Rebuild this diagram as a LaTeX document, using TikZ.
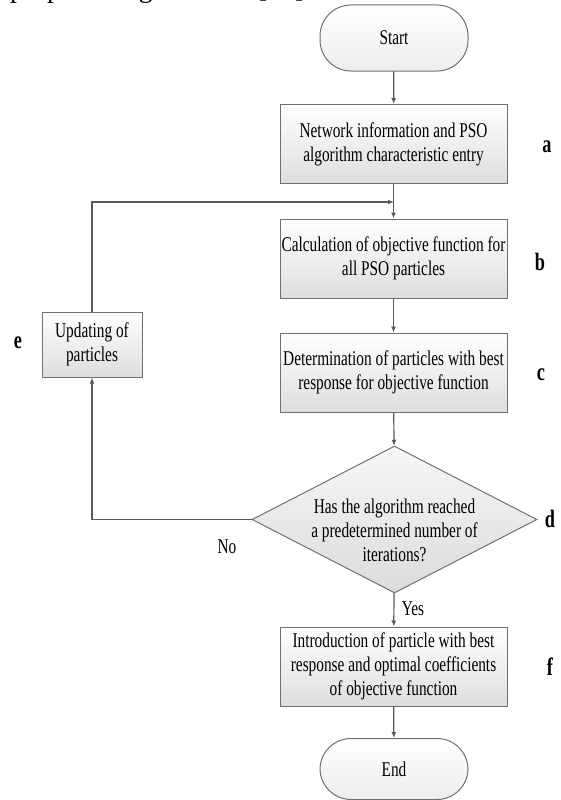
\documentclass[tikz,border=0pt]{standalone}
\usepackage{fontspec}
\setmainfont{Liberation Serif}[FakeStretch=0.73]
\newfontfamily\bodyfont{Liberation Serif}
\usetikzlibrary{shapes.geometric,arrows.meta}
\definecolor{linegray}{HTML}{595959}
\definecolor{edgegray}{HTML}{707070}
\begin{document}
\begin{tikzpicture}[x=1pt,y=-1pt,
  boxtext/.style={font=\fontsize{21}{24}\selectfont, align=center},
  procbox/.style={boxtext, draw=edgegray, line width=1pt,
    top color=white, bottom color=black!13,
    minimum width=227pt, minimum height=79pt, inner sep=0pt},
  smallbox/.style={procbox, minimum width=100pt, minimum height=65pt},
  terminal/.style={boxtext, draw=edgegray, line width=1pt,
    top color=white, bottom color=black!7,
    rounded corners=31pt, minimum width=148pt, inner sep=0pt},
  decision/.style={diamond, draw=edgegray, line width=1pt,
    top color=black!3, bottom color=black!14,
    minimum width=285pt, minimum height=147pt, inner sep=0pt},
  steplabel/.style={font=\bfseries\fontsize{25}{25}\selectfont, inner sep=0pt},
  branchlabel/.style={font=\fontsize{21}{24}\selectfont, inner sep=0pt},
  flow/.style={draw=linegray, line width=1.2pt,
    -{Latex[length=6pt,width=5pt]}},
  plainline/.style={draw=linegray, line width=1.2pt}
]
\useasboundingbox (0,0) rectangle (560,800);
\clip (0,0) rectangle (560,800);

% running text of the page above the chart (only its lowest strip lies on the page)
\node[anchor=base west, inner sep=0pt,
  font=\bodyfont\fontsize{27.75}{30}\selectfont] (pagetext) at (10,-2) {proposed algorithm};
\node[anchor=base west, inner sep=0pt,
  font=\bodyfont\fontsize{27.75}{30}\selectfont] (pageref) at (258,-2) {[22]};

% main column
\node[terminal, minimum height=66pt] (start) at (394,38) {Start};
\node[procbox] (a) at (393.5,144) {Network information and PSO\\algorithm characteristic entry};
\node[procbox] (b) at (393.5,258.5) {Calculation of objective function for\\all PSO particles};
\node[procbox] (c) at (393.5,372.5) {Determination of particles with best\\response for objective function};
\node[decision] (d) at (394.5,519.5) {};
\node[boxtext, inner sep=0pt] (dtext) at (394.5,530) {Has the algorithm reached\\a predetermined number of\\iterations?};
\node[procbox] (f) at (393.5,666.5) {Introduction of particle with best\\response and optimal coefficients\\of objective function};
\node[terminal, minimum height=61pt] (end) at (394,769) {End};

% loop-back step
\node[smallbox] (e) at (92,344.5) {Updating of\\particles};

% step letters
\node[steplabel] (la) at (547,147) {a};
\node[steplabel] (lb) at (540,262) {b};
\node[steplabel] (lc) at (541,375) {c};
\node[steplabel] (ld) at (550,519) {d};
\node[steplabel] (le) at (18,343) {e};
\node[steplabel] (lf) at (550,667) {f};

% junction above box b where the loop returns
\coordinate (join) at (394,202);
\coordinate (loopin) at (92,519.5);
\coordinate (loopout) at (92,202);

% connectors
\draw[flow] (start) -- (a);
\draw[flow] (a) -- (b);
\draw[flow] (b) -- (c);
\draw[flow] (c) -- (d);
\draw[flow] (d) -- (f);
\draw[flow] (f) -- (end);
\draw[flow] (d.west) -- (loopin) -- (e.south);
\draw[flow] (e.north) -- (loopout) -- (join);

% branch labels
\node[branchlabel] (no) at (227,547) {No};
\node[branchlabel, anchor=base] (yes) at (413,615) {Yes};
\end{tikzpicture}
\end{document}
